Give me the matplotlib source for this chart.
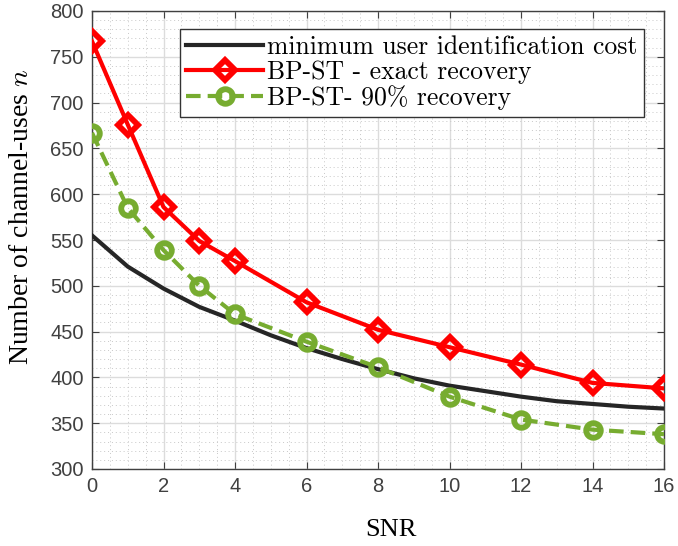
import matplotlib
matplotlib.use("Agg")
import matplotlib.pyplot as plt
from matplotlib.ticker import MultipleLocator

snr = [0, 1, 2, 3, 4, 6, 8, 10, 12, 14, 16]
exact = [767, 676, 586, 549, 527, 482, 452, 433, 414, 394, 388]
ninety = [667, 585, 539, 500, 469, 439, 411, 379, 354, 343, 338]
snr_min = [0, 1, 2, 3, 4, 5, 6, 7, 8, 9, 10, 11, 12, 13, 14, 15, 16]
min_cost = [555, 521, 497, 477, 462, 446, 432, 420, 409, 399, 391, 385, 379, 374, 371, 368, 366]

labels = ["minimum user identification cost", "BP-ST - exact recovery", "BP-ST- 90% recovery"]
xticks = [0, 2, 4, 6, 8, 10, 12, 14, 16]
yticks = [300, 350, 400, 450, 500, 550, 600, 650, 700, 750, 800]

plt.rcParams['mathtext.fontset'] = 'cm'

fig = plt.figure(figsize=(6.78, 5.46), dpi=100)
ax = fig.add_axes([92/678, 1-469/546, (664-92)/678, (469-11)/546])

black = '#262626'
red = '#ff0000'
green = '#77ac30'

ax.plot(snr_min, min_cost, color=black, lw=3, label=labels[0], zorder=3)
ax.plot(snr, exact, color=red, lw=3, marker='D', ms=10.5, mfc='none', mew=4.2, label=labels[1], zorder=4)
ax.plot(snr, ninety, color=green, lw=3, ls=(0, (3.5, 1.7)), marker='o', ms=10.5, mfc='none', mew=4.2, label=labels[2], zorder=4)

ax.set_xlim(0, 16)
ax.set_ylim(300, 800)
ax.set_xticks(xticks)
ax.set_yticks(yticks)
ax.xaxis.set_minor_locator(MultipleLocator(0.5))
ax.yaxis.set_minor_locator(MultipleLocator(10))
ax.grid(which='major', color='#dcdcdc', lw=1.0, ls='-')
ax.grid(which='minor', color='#c8c8c8', lw=0.7, ls=(0, (1, 3)))
ax.set_axisbelow(True)

ax.tick_params(which='both', direction='in', top=True, right=True, colors='#404040', labelcolor='#404040')
ax.tick_params(which='major', length=5, width=0.8, labelsize=14.5, pad=6)
ax.tick_params(which='minor', length=0)
for lab in ax.get_xticklabels() + ax.get_yticklabels():
    lab.set_family('Liberation Sans')
for s in ax.spines.values():
    s.set_color('#404040')
    s.set_linewidth(1.0)

ax.set_xlabel('SNR', family='Liberation Serif', fontsize=19, va='center')
ax.xaxis.set_label_coords((391-92)/572, (469-530)/458)
ax.set_ylabel('Number of channel-uses $n$', family='Liberation Serif', fontsize=20, va='center')
ax.yaxis.set_label_coords((22-92)/572, (469-217)/458)

leg = ax.legend(loc='upper right', bbox_to_anchor=((644-92)/572, (469-29)/458), prop={'family': 'cmr10', 'size': 18.5},
                fancybox=False, framealpha=1, edgecolor='#333333', handlelength=3.0,
                borderpad=0.25, labelspacing=0.05, handletextpad=0.15, borderaxespad=0)
leg.get_frame().set_linewidth(1.0)

fig.savefig('out.png', dpi=100)
